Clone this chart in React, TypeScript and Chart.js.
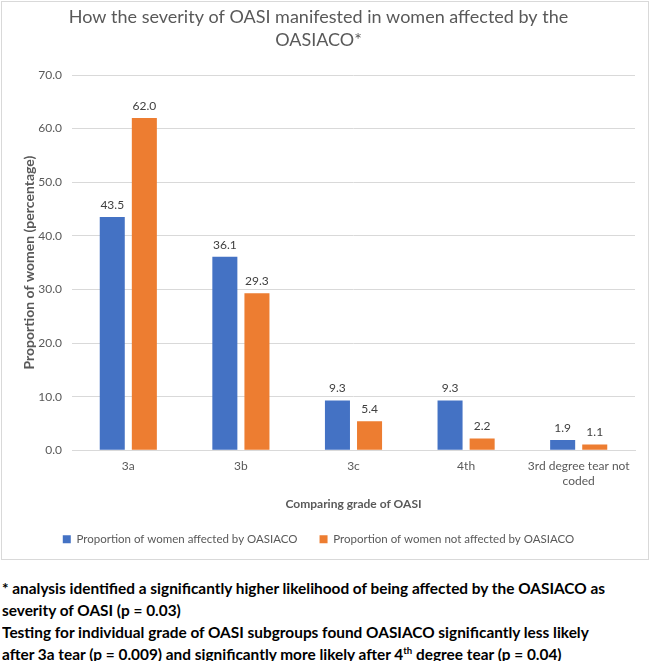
import React, { useEffect, useRef, useLayoutEffect } from "react";
import { Chart, registerables } from "chart.js";

Chart.register(...registerables);

const categories: (string | string[])[] = ["3a", "3b", "3c", "4th", ["3rd degree tear not", "coded"]];
const affected = [43.5, 36.1, 9.3, 9.3, 1.9];
const notAffected = [62.0, 29.3, 5.4, 2.2, 1.1];
const seriesNames = [
  "Proportion of women affected by OASIACO",
  "Proportion of women not affected by OASIACO",
];
const titleLines = ["How the severity of OASI manifested in women affected by the", "OASIACO*"];
const yTitle = "Proportion of women (percentage)";
const xTitle = "Comparing grade of OASI";
const yMax = 70;
const yStep = 10;

const FONT = "Lato, 'Open Sans', sans-serif";

const dataLabels = {
  id: "dataLabels",
  afterDatasetsDraw(chart: any) {
    const ctx = chart.ctx;
    ctx.save();
    ctx.font = `12px ${FONT}`;
    ctx.fillStyle = "#404040";
    ctx.textAlign = "center";
    ctx.textBaseline = "bottom";
    chart.data.datasets.forEach((ds: any, di: number) => {
      const meta = chart.getDatasetMeta(di);
      meta.data.forEach((el: any, i: number) => {
        ctx.fillText(Number(ds.data[i]).toFixed(1), el.x, el.y - 6);
      });
    });
    ctx.restore();
  },
};

export default function App() {
  const ref = useRef<HTMLCanvasElement>(null);
  const noteRef = useRef<HTMLDivElement>(null);
  const line1Ref = useRef<HTMLSpanElement>(null);

  useLayoutEffect(() => {
    document.body.style.margin = "0";
    if (noteRef.current && line1Ref.current) {
      const w = line1Ref.current.getBoundingClientRect().width;
      const s = 603 / w;
      noteRef.current.style.transform = `scaleX(${s})`;
    }
  }, []);

  useEffect(() => {
    if (!ref.current) return;
    const chart = new Chart(ref.current, {
      type: "bar",
      data: {
        labels: categories,
        datasets: [
          {
            label: seriesNames[0],
            data: affected,
            backgroundColor: "#4472C4",
            barPercentage: 0.78,
            categoryPercentage: 0.57,
          },
          {
            label: seriesNames[1],
            data: notAffected,
            backgroundColor: "#ED7D31",
            barPercentage: 0.78,
            categoryPercentage: 0.57,
          },
        ],
      },
      options: {
        animation: false,
        responsive: false,
        maintainAspectRatio: false,
        layout: { padding: { left: 0, right: 13, top: 0, bottom: 4 } },
        plugins: {
          title: {
            display: true,
            text: titleLines,
            color: "#595959",
            font: { family: FONT, size: 18, weight: "normal", lineHeight: 1.25 },
            padding: { top: 4, bottom: 24 },
          },
          legend: {
            position: "bottom",
            labels: {
              boxWidth: 8,
              boxHeight: 8,
              padding: 22,
              color: "#595959",
              font: { family: FONT, size: 11.5 },
            },
          },
          tooltip: { enabled: false },
        },
        scales: {
          x: {
            grid: { display: false, drawTicks: false },
            border: { color: "#d9d9d9", width: 1 },
            ticks: {
              color: "#595959",
              font: { family: FONT, size: 12 },
              padding: 9,
              maxRotation: 0,
              autoSkip: false,
            },
            title: {
              display: true,
              text: xTitle,
              color: "#595959",
              font: { family: FONT, size: 12, weight: "bold" },
              padding: { top: 0, bottom: 0 },
            },
          },
          y: {
            min: 0,
            max: yMax,
            grid: { color: "#d9d9d9", drawTicks: false },
            border: { display: false },
            ticks: {
              stepSize: yStep,
              color: "#595959",
              font: { family: FONT, size: 12 },
              padding: 10,
              callback: (v: any) => Number(v).toFixed(1),
            },
            title: {
              display: true,
              text: yTitle,
              color: "#595959",
              font: { family: FONT, size: 14, weight: "bold" },
              padding: { top: 19, bottom: 0 },
            },
            afterFit: (s: any) => {
              s.width = 70;
            },
          },
        },
      },
      plugins: [dataLabels],
    });
    return () => chart.destroy();
  }, []);

  return (
    <div style={{ position: "relative", width: 650, height: 661, background: "#fff" }}>
      <div
        style={{
          position: "absolute",
          left: 1,
          top: 1,
          width: 646,
          height: 557,
          border: "1px solid #d9d9d9",
        }}
      >
        <canvas ref={ref} width={646} height={557} style={{ display: "block" }} />
      </div>
      <div
        ref={noteRef}
        style={{
          position: "absolute",
          left: 2,
          top: 577,
          fontFamily: FONT,
          fontWeight: "bold",
          fontSize: 16,
          lineHeight: "22px",
          color: "#000",
          whiteSpace: "nowrap",
          transformOrigin: "0 0",
        }}
      >
        <span ref={line1Ref}>
          * analysis identified a significantly higher likelihood of being affected by the OASIACO as
        </span>
        <br />
        severity of OASI (p = 0.03)
        <br />
        Testing for individual grade of OASI subgroups found OASIACO significantly less likely
        <br />
        after 3a tear (p = 0.009) and significantly more likely after 4
        <sup style={{ fontSize: 10, lineHeight: 0 }}>th</sup> degree tear (p = 0.04)
      </div>
    </div>
  );
}
